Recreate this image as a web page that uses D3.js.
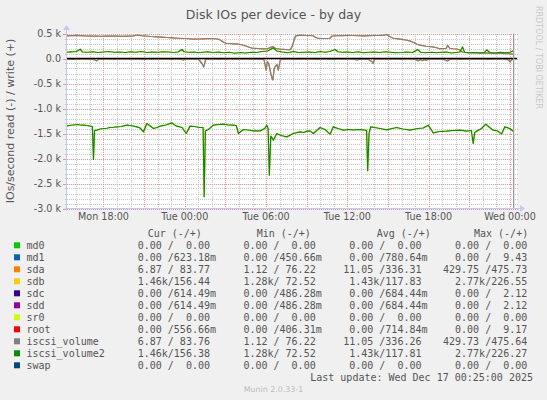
<!DOCTYPE html>
<html>
<head>
<meta charset="utf-8">
<script src="https://cdn.jsdelivr.net/npm/d3@7"></script>
<style>
  html, body { margin: 0; padding: 0; background: #f0f0f0; }
  svg { display: block; }
</style>
</head>
<body>
<svg id="chart" width="547" height="400"></svg>
<script>
// ---------------- DATA ----------------
const title = "Disk IOs per device - by day";
const yLabel = "IOs/second read (-) / write (+)";
const yTicks = [-3000, -2500, -2000, -1500, -1000, -500, 0, 500];
const yTickLabels = ["-3.0 k", "-2.5 k", "-2.0 k", "-1.5 k", "-1.0 k", "-0.5 k", "0.0", "0.5 k"];
const yDomain = [-3000, 500];
// hours since Mon Dec 15 2025 00:00
const xDomainHours = [15.27, 48.52];
const lastDataHour = 48.27;

// sda / iscsi_volume write (+)
const sdaWrite = [[15.27,452],[15.6,455],[16.0,462],[16.3,458],[16.7,450],[17.0,446],[17.4,448],[17.8,445],[18.2,450],[18.6,447],[19.0,448],[19.4,444],[19.8,447],[20.2,452],[20.5,470],[20.8,458],[21.1,450],[21.5,440],[21.9,433],[22.3,428],[22.7,420],[23.1,412],[23.5,405],[23.9,400],[24.3,395],[24.6,388],[25.0,390],[25.4,394],[25.8,400],[26.2,395],[26.5,385],[26.7,355],[26.9,320],[27.1,300],[27.5,296],[27.9,288],[28.2,275],[28.5,250],[28.8,220],[29.0,205],[29.4,200],[29.8,192],[30.1,195],[30.35,225],[30.5,240],[30.7,200],[31.0,190],[31.3,182],[31.6,175],[31.8,178],[31.95,260],[32.1,400],[32.2,452],[32.5,466],[33.0,460],[33.47,455],[33.6,430],[33.76,410],[34.0,400],[34.35,400],[34.7,405],[34.87,450],[35.2,455],[35.6,458],[36.0,462],[36.4,460],[36.8,455],[37.2,452],[37.6,456],[38.0,460],[38.4,462],[38.7,468],[38.93,480],[39.1,440],[39.4,405],[39.9,386],[40.3,370],[40.6,352],[40.9,320],[41.1,290],[41.35,266],[41.8,245],[42.3,233],[42.6,215],[42.8,196],[43.1,198],[43.3,205],[43.4,262],[43.55,205],[43.8,195],[44.1,190],[44.3,170],[44.5,125],[44.9,118],[45.4,115],[45.9,112],[46.4,108],[46.9,105],[47.4,100],[47.9,95],[48.27,84]];

// sda / iscsi_volume read (-)
const sdaRead = [[15.27,-5],[15.5,-20],[15.8,-18],[16.0,-6],[16.5,-4],[17.0,-8],[17.4,-30],[17.5,-47],[17.65,-10],[18.2,-5],[18.8,-12],[19.3,-4],[19.9,-10],[20.5,-4],[21.0,-18],[21.4,-5],[22.0,-10],[22.5,-4],[23.0,-12],[23.5,-5],[23.9,-30],[24.1,-6],[24.6,-8],[25.0,-12],[25.25,-90],[25.4,-167],[25.55,-15],[26.0,-5],[26.5,-14],[27.0,-4],[27.5,-10],[28.0,-5],[28.5,-10],[29.0,-6],[29.5,-9],[29.85,-25],[30.0,-233],[30.1,-60],[30.2,-110],[30.35,-300],[30.45,-400],[30.5,-430],[30.6,-200],[30.66,-167],[30.8,-120],[30.9,-233],[31.05,-30],[31.3,-10],[31.8,-6],[32.3,-12],[32.8,-5],[33.3,-8],[33.8,-14],[34.3,-5],[34.8,-20],[35.3,-6],[35.8,-10],[36.3,-5],[36.7,-30],[37.0,-8],[37.5,-12],[37.8,-60],[37.9,-100],[38.0,-15],[38.5,-5],[39.0,-10],[39.5,-6],[40.0,-12],[40.5,-5],[41.0,-15],[41.2,-47],[41.4,-20],[41.55,-45],[41.7,-15],[41.8,-40],[42.0,-8],[42.5,-6],[43.0,-10],[43.4,-50],[43.6,-10],[44.0,-6],[44.5,-12],[45.0,-5],[45.5,-10],[46.0,-6],[46.5,-12],[47.0,-5],[47.5,-10],[47.9,-30],[48.0,-67],[48.15,-20],[48.27,-7]];

// sdb / iscsi_volume2 write (+)
const sdbWrite = [[15.27,125],[15.6,132],[16.0,140],[16.28,186],[16.45,130],[16.8,125],[17.2,135],[17.6,120],[18.0,130],[18.4,140],[18.8,125],[19.2,130],[19.6,120],[20.0,135],[20.4,125],[20.8,140],[21.2,120],[21.6,130],[22.0,125],[22.4,135],[22.8,130],[23.2,120],[23.5,130],[23.78,180],[23.95,135],[24.3,125],[24.7,130],[25.0,115],[25.3,125],[25.7,135],[26.1,120],[26.5,130],[26.9,115],[27.3,125],[27.7,105],[28.1,120],[28.5,110],[28.9,125],[29.3,120],[29.7,140],[30.1,150],[30.54,213],[30.8,150],[31.2,130],[31.6,115],[32.0,140],[32.4,120],[32.8,125],[33.2,130],[33.6,120],[34.0,140],[34.35,125],[34.7,140],[35.1,180],[35.3,135],[35.6,125],[36.0,130],[36.4,120],[36.8,135],[37.2,115],[37.6,125],[38.0,130],[38.4,120],[38.8,135],[39.2,125],[39.6,115],[40.0,120],[40.4,130],[40.8,120],[41.2,178],[41.4,125],[41.8,115],[42.2,125],[42.6,115],[42.9,125],[43.3,130],[43.7,110],[44.0,120],[44.3,130],[44.5,230],[44.65,125],[45.0,115],[45.4,120],[45.8,110],[46.1,118],[46.3,172],[46.5,120],[46.9,110],[47.3,125],[47.7,115],[48.0,125],[48.27,156]];

// sdb / iscsi_volume2 read (-)
const sdbRead = [[15.30,-1347],[15.6,-1335],[16.04,-1320],[16.3,-1330],[16.53,-1333],[16.8,-1340],[17.02,-1353],[17.18,-1360],[17.26,-2020],[17.34,-1440],[17.51,-1433],[17.75,-1410],[18.0,-1400],[18.25,-1395],[18.49,-1380],[18.75,-1375],[18.99,-1367],[19.3,-1360],[19.73,-1333],[20.1,-1345],[20.46,-1367],[20.7,-1390],[20.95,-1467],[21.2,-1300],[21.45,-1350],[21.69,-1400],[21.95,-1380],[22.18,-1353],[22.6,-1330],[23.04,-1287],[23.2,-1320],[23.41,-1353],[23.8,-1380],[24.10,-1500],[24.39,-1353],[24.7,-1360],[25.13,-1380],[25.35,-1380],[25.43,-2767],[25.52,-1450],[25.74,-1420],[26.11,-1333],[26.5,-1320],[26.85,-1313],[27.2,-1330],[27.59,-1333],[27.8,-1340],[27.96,-1500],[28.32,-1420],[28.7,-1430],[29.06,-1447],[29.56,-1447],[29.9,-1400],[30.05,-1333],[30.15,-1400],[30.24,-2333],[30.35,-1550],[30.54,-1633],[30.79,-1500],[31.1,-1540],[31.53,-1567],[32.01,-1500],[32.51,-1467],[32.8,-1480],[33.0,-1453],[33.24,-1447],[33.49,-1500],[33.98,-1380],[34.35,-1420],[34.72,-1513],[34.96,-1367],[35.3,-1400],[35.70,-1433],[36.1,-1420],[36.44,-1427],[36.9,-1420],[37.30,-1433],[37.42,-1440],[37.50,-2247],[37.6,-1500],[37.72,-1367],[38.0,-1380],[38.41,-1400],[38.90,-1427],[39.3,-1400],[39.64,-1380],[40.1,-1410],[40.62,-1433],[41.2,-1400],[41.6,-1390],[41.97,-1333],[42.34,-1487],[42.8,-1460],[43.32,-1453],[43.8,-1440],[44.31,-1433],[44.80,-1453],[45.15,-1440],[45.29,-1700],[45.4,-1480],[45.54,-1453],[45.9,-1400],[46.22,-1313],[46.5,-1380],[46.76,-1433],[47.1,-1450],[47.38,-1513],[47.62,-1367],[47.99,-1400],[48.27,-1460]];

// legend
const legendNames = ["md0","md1","sda","sdb","sdc","sdd","sr0","root","iscsi_volume","iscsi_volume2","swap"];
const legendColors = ["#00cc00","#0066b3","#ff8000","#ffcc00","#330099","#990099","#ccff00","#ff0000","#808080","#008f00","#00487d"];
const legendHeaders = ["Cur (-/+)","Min (-/+)","Avg (-/+)","Max (-/+)"];
const curValues = ["  0.00 /  0.00 ","  0.00 /623.18m","  6.87 / 83.77 ","  1.46k/156.44 ","  0.00 /614.49m","  0.00 /614.49m","  0.00 /  0.00 ","  0.00 /556.66m","  6.87 / 83.76 ","  1.46k/156.38 ","  0.00 /  0.00 "];
const minValues = ["  0.00 /  0.00 ","  0.00 /450.66m","  1.12 / 76.22 ","  1.28k/ 72.52 ","  0.00 /486.28m","  0.00 /486.28m","  0.00 /  0.00 ","  0.00 /406.31m","  1.12 / 76.22 ","  1.28k/ 72.52 ","  0.00 /  0.00 "];
const avgValues = ["  0.00 /  0.00 ","  0.00 /780.64m"," 11.05 /336.31 ","  1.43k/117.83 ","  0.00 /684.44m","  0.00 /684.44m","  0.00 /  0.00 ","  0.00 /714.84m"," 11.05 /336.26 ","  1.43k/117.81 ","  0.00 /  0.00 "];
const maxValues = ["  0.00 /  0.00 ","  0.00 /  9.43 ","429.75 /475.73 ","  2.77k/226.55 ","  0.00 /  2.12 ","  0.00 /  2.12 ","  0.00 /  0.00 ","  0.00 /  9.17 ","429.73 /475.64 ","  2.77k/226.27 ","  0.00 /  0.00 "];
const lastUpdate = "Last update: Wed Dec 17 00:25:00 2025";
const footer = "Munin 2.0.33-1";
const watermark = "RRDTOOL / TOBI OETIKER";

// ---------------- DRAW ----------------
const HOUR0 = Date.UTC(2025, 11, 15);
const toDate = h => new Date(HOUR0 + h * 3600e3);

const svg = d3.select("#chart");
const W = 547, H = 400;
const plot = { left: 66.5, right: 517, top: 33.5, bottom: 208.5 };

svg.append("rect").attr("width", W).attr("height", H).attr("fill", "#f0f0f0");
svg.append("rect")
  .attr("x", plot.left).attr("y", plot.top)
  .attr("width", plot.right - plot.left).attr("height", plot.bottom - plot.top)
  .attr("fill", "#ffffff");

const x = d3.scaleUtc().domain(xDomainHours.map(toDate)).range([plot.left, plot.right]);
const y = d3.scaleLinear().domain(yDomain).range([plot.bottom, plot.top]);

const sans = "'DejaVu Sans', Verdana, sans-serif";
const mono = "'DejaVu Sans Mono', monospace";
const textCol = "#555555";

const px = v => Math.round(v) + 0.5;

// grid
const grid = svg.append("g").attr("shape-rendering", "crispEdges");
const hMinor = y.ticks(35);
const hMajor = yTicks;
const vMinor = x.ticks(d3.utcHour.every(1));
const vMajor = x.ticks(d3.utcHour.every(3));
const gridRight = plot.right + 1.5;
const minorCol = "#c6c6c6";
const majorCol = "#ec9494";

grid.selectAll(".hmin").data(hMinor.filter(v => !hMajor.includes(v))).join("line")
  .attr("x1", plot.left).attr("x2", gridRight)
  .attr("y1", d => px(y(d))).attr("y2", d => px(y(d)))
  .attr("stroke", minorCol).attr("stroke-dasharray", "1,1");
grid.selectAll(".vmin").data(vMinor.filter(d => d.getUTCHours() % 3 !== 0)).join("line")
  .attr("y1", plot.top).attr("y2", plot.bottom)
  .attr("x1", d => px(x(d))).attr("x2", d => px(x(d)))
  .attr("stroke", minorCol).attr("stroke-dasharray", "1,1");
grid.selectAll(".hmaj").data(hMajor).join("line")
  .attr("x1", plot.left).attr("x2", gridRight)
  .attr("y1", d => px(y(d))).attr("y2", d => px(y(d)))
  .attr("stroke", majorCol).attr("stroke-dasharray", "1,1");
grid.selectAll(".vmaj").data(vMajor).join("line")
  .attr("y1", plot.top).attr("y2", plot.bottom)
  .attr("x1", d => px(x(d))).attr("x2", d => px(x(d)))
  .attr("stroke", majorCol).attr("stroke-dasharray", "1,1");

// y ticks marks on axis
grid.selectAll(".ytm").data(hMinor).join("line")
  .attr("x1", d => hMajor.includes(d) ? plot.left - 4 : plot.left - 2)
  .attr("x2", plot.left)
  .attr("y1", d => px(y(d))).attr("y2", d => px(y(d)))
  .attr("stroke", d => hMajor.includes(d) ? majorCol : "#c0c0c0");

// series lines
const line = d3.line().x(d => x(toDate(d[0]))).y(d => y(d[1]));
const lines = svg.append("g").attr("fill", "none").attr("stroke-width", 1.2).attr("stroke-linejoin", "round");
const drawSeries = (data, color) => lines.append("path").datum(data).attr("d", line).attr("stroke", color);
// sda, sdb first, then iscsi volumes over them (same traffic)
drawSeries(sdaRead, legendColors[2]);
drawSeries(sdaWrite, legendColors[2]);
drawSeries(sdbRead, legendColors[3]);
drawSeries(sdbWrite, legendColors[3]);
drawSeries(sdaRead, legendColors[8]);
drawSeries(sdaWrite, legendColors[8]);
drawSeries(sdbRead, legendColors[9]);
drawSeries(sdbWrite, legendColors[9]);

// zero rule
svg.append("line")
  .attr("x1", plot.left).attr("x2", plot.right)
  .attr("y1", y(0)).attr("y2", y(0))
  .attr("stroke", "#000").attr("stroke-width", 1.3);

// last update vertical rule
svg.append("line")
  .attr("x1", x(toDate(lastDataHour))).attr("x2", x(toDate(lastDataHour)))
  .attr("y1", plot.top).attr("y2", plot.bottom)
  .attr("stroke", "#999").attr("stroke-width", 1.3);

// axes
const axisCol = "#c4c8f4";
svg.append("line").attr("x1", px(plot.left - 0.5)).attr("x2", px(plot.left - 0.5))
  .attr("y1", plot.bottom + 2).attr("y2", plot.top - 4)
  .attr("stroke", axisCol).attr("shape-rendering", "crispEdges");
svg.append("line").attr("x1", plot.left - 2).attr("x2", plot.right + 3)
  .attr("y1", px(plot.bottom - 0.5)).attr("y2", px(plot.bottom - 0.5))
  .attr("stroke", axisCol).attr("shape-rendering", "crispEdges");
svg.append("path")
  .attr("d", d3.line()([[plot.left - 3.5, plot.top - 3.5], [plot.left + 3.5, plot.top - 3.5], [plot.left, plot.top - 8.5]]) + "Z")
  .attr("fill", axisCol);
svg.append("path")
  .attr("d", d3.line()([[plot.right + 3, plot.bottom - 3.5], [plot.right + 3, plot.bottom + 3.5], [plot.right + 8, plot.bottom]]) + "Z")
  .attr("fill", axisCol);

// y tick labels
svg.append("g").selectAll("text").data(yTicks).join("text")
  .attr("x", 61).attr("y", d => y(d)).attr("dy", "0.36em")
  .attr("text-anchor", "end")
  .attr("font-family", sans).attr("font-size", 9.6).attr("fill", textCol)
  .text((d, i) => yTickLabels[i]);

// x tick labels
const fmt = d3.utcFormat("%a %H:%M");
svg.append("g").selectAll("text").data(x.ticks(d3.utcHour.every(6))).join("text")
  .attr("x", d => x(d)).attr("y", 219.5)
  .attr("text-anchor", "middle")
  .attr("font-family", sans).attr("font-size", 9.6).attr("fill", textCol)
  .text(d => fmt(d));

// title
svg.append("text").attr("x", W / 2).attr("y", 18.5).attr("text-anchor", "middle")
  .attr("font-family", sans).attr("font-size", 12.5).attr("fill", textCol).text(title);

// y label
svg.append("text")
  .attr("transform", `translate(14,${(plot.top + plot.bottom) / 2}) rotate(-90)`)
  .attr("text-anchor", "middle")
  .attr("font-family", sans).attr("font-size", 11).attr("fill", textCol).text(yLabel);

// watermark
svg.append("text")
  .attr("transform", "translate(535.5,6) rotate(90)")
  .attr("font-family", sans).attr("font-size", 8).attr("fill", "#c8c8c8").text(watermark);

// legend
const nb = s => s.replace(/ /g, "\u00a0");
const leg = svg.append("g").attr("font-family", mono).attr("font-size", 10).attr("fill", textCol);
const headerX = [147.7, 256.7, 376.7, 474];
leg.selectAll(".hdr").data(legendHeaders).join("text")
  .attr("x", (d, i) => headerX[i]).attr("y", 237).text(d => nb(d));
const rowY = i => 249.3 + i * 12;
leg.selectAll(".sq").data(legendNames).join("rect")
  .attr("x", 14).attr("y", (d, i) => rowY(i) - 7).attr("width", 6).attr("height", 6)
  .attr("fill", (d, i) => legendColors[i]);
leg.selectAll(".nm").data(legendNames).join("text")
  .attr("x", 26.5).attr("y", (d, i) => rowY(i)).text(d => d);
const colStart = [125.7, 231.4, 337.2, 443];
[curValues, minValues, avgValues, maxValues].forEach((vals, c) => {
  leg.selectAll(".c" + c).data(vals).join("text")
    .attr("x", colStart[c]).attr("y", (d, i) => rowY(i)).text(d => nb(d));
});
leg.append("text").attr("x", 533).attr("y", rowY(11)).attr("text-anchor", "end").text(nb(lastUpdate));

svg.append("text").attr("x", W / 2).attr("y", 392).attr("text-anchor", "middle")
  .attr("font-family", sans).attr("font-size", 7.9).attr("fill", "#bbbbbb").text(footer);
</script>
</body>
</html>
